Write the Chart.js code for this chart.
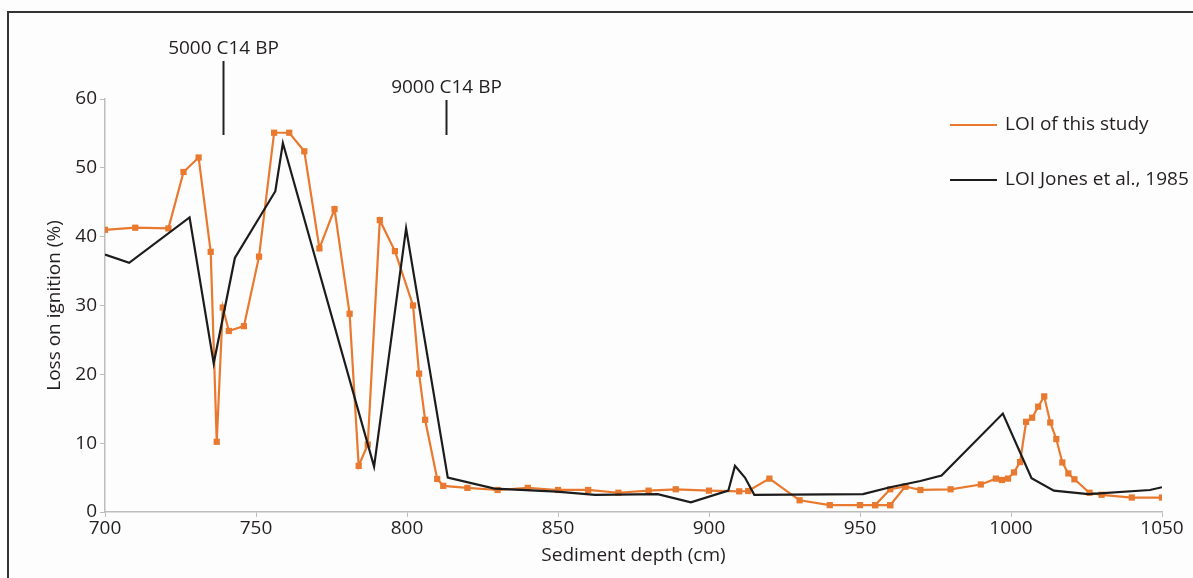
<!DOCTYPE html>
<html><head><meta charset="utf-8">
<script src="https://cdn.jsdelivr.net/npm/chart.js@4.4.0/dist/chart.umd.min.js"></script>
<style>
html,body{margin:0;padding:0;background:#fdfdfd;}
#wrap{position:relative;width:1193px;height:578px;overflow:hidden;background:#fdfdfd;}
#frame{position:absolute;left:7px;top:11px;width:1300px;height:700px;border-top:2px solid #333;border-left:2px solid #333;}
canvas{position:absolute;left:0;top:0;}
</style></head><body>
<div id="wrap"><div id="frame"></div><canvas id="c" width="1193" height="578"></canvas></div>
<script>
// ---- data ----
const studyDepth = [700,710,721,726,731,735,737,739,741,746,751,756,761,766,771,776,781,784,787,791,796,802,804,806,810,812,820,830,840,850,860,870,880,889,900,910,913,920,930,940,950,955,960,965,960,955,960,965,970,980,990,995,997,999,1001,1003,1005,1007,1009,1011,1013,1015,1017,1019,1021,1026,1030,1040,1050];
const studyLOI   = [41.0,41.3,41.2,49.4,51.5,37.8,10.2,29.7,26.3,27.0,37.1,55.1,55.1,52.4,38.3,44.0,28.8,6.7,9.8,42.4,37.9,30.0,20.1,13.4,4.8,3.8,3.5,3.2,3.5,3.2,3.2,2.8,3.1,3.3,3.1,3.0,3.05,4.85,1.7,1.0,1.0,1.0,3.3,3.7,1.0,1.0,1.0,3.7,3.2,3.3,4.0,4.85,4.65,4.85,5.75,7.25,13.1,13.7,15.3,16.8,13.0,10.6,7.2,5.6,4.75,2.8,2.5,2.1,2.1];
const jonesDepth = [700,708,728,736,743,756.4,758.9,789.1,799.7,813.5,829,849.6,862.3,883,894,906.4,908.6,911.9,915,951,960,970,977,997.3,1006.8,1014.2,1025.6,1046,1050];
const jonesLOI   = [37.4,36.2,42.8,21.6,36.9,46.6,53.6,6.6,41.2,5.0,3.4,2.95,2.5,2.6,1.4,3.1,6.7,5.0,2.5,2.6,3.6,4.5,5.3,14.3,4.9,3.1,2.6,3.2,3.6];
const xTicks = [700,750,800,850,900,950,1000,1050];
const yTicks = [0,10,20,30,40,50,60];
const datedDepths = [739,813];
const datedLabels = ['5000 C14 BP','9000 C14 BP'];
const seriesNames = ['LOI of this study','LOI Jones et al., 1985'];
const xTitle = 'Sediment depth (cm)';
const yTitle = 'Loss on ignition (%)';

const FAMILY = '"Open Sans", "DejaVu Sans", sans-serif';
const FS = 19;
const ORANGE = '#E8792E';
const BLACK = '#1c1c1c';
const TEXT = '#231F20';
const AXIS = '#BDBDBD';

const overlay = {
  id: 'overlay',
  afterDraw(chart) {
    const {ctx, scales: {x}} = chart;
    ctx.save();
    ctx.font = FS + 'px ' + FAMILY;
    ctx.fillStyle = TEXT;
    ctx.strokeStyle = '#222';
    ctx.lineWidth = 2;
    ctx.textAlign = 'center';
    ctx.textBaseline = 'middle';
    const labelY = [49, 88];
    const lineTop = [61, 100];
    const lineBottom = 135;
    datedDepths.forEach((d, i) => {
      const px = Math.round(x.getPixelForValue(d)) + 0.5;
      ctx.fillText(datedLabels[i], px, labelY[i]);
      ctx.beginPath();
      ctx.moveTo(px, lineTop[i]);
      ctx.lineTo(px, lineBottom);
      ctx.stroke();
    });
    // legend
    const colors = [ORANGE, BLACK];
    const ly = [125, 180];
    ctx.textAlign = 'left';
    seriesNames.forEach((n, i) => {
      ctx.strokeStyle = colors[i];
      ctx.lineWidth = 2;
      ctx.beginPath();
      ctx.moveTo(950, ly[i]);
      ctx.lineTo(997, ly[i]);
      ctx.stroke();
      ctx.fillStyle = TEXT;
      ctx.fillText(n, 1005, ly[i]);
    });
    ctx.restore();
  }
};

new Chart(document.getElementById('c'), {
  type: 'scatter',
  data: {
    datasets: [
      {
        label: seriesNames[1],
        data: jonesDepth.map((d, i) => ({x: d, y: jonesLOI[i]})),
        showLine: true,
        borderColor: BLACK,
        borderWidth: 2.2,
        pointRadius: 0,
        tension: 0
      },
      {
        label: seriesNames[0],
        data: studyDepth.map((d, i) => ({x: d, y: studyLOI[i]})),
        showLine: true,
        borderColor: ORANGE,
        backgroundColor: ORANGE,
        borderWidth: 2.2,
        pointStyle: 'rect',
        pointRadius: 4.4,
        pointBorderWidth: 0,
        tension: 0
      }
    ]
  },
  options: {
    responsive: false,
    animation: false,
    devicePixelRatio: 1,
    layout: {padding: {top: 99, right: 31, left: 0, bottom: 0}},
    plugins: {legend: {display: false}, tooltip: {enabled: false}},
    scales: {
      x: {
        type: 'linear',
        min: 700, max: 1050,
        afterBuildTicks: s => { s.ticks = xTicks.map(v => ({value: v})); },
        afterFit: s => { s.height = 66; },
        grid: {drawOnChartArea: false, color: AXIS, tickLength: 5},
        border: {color: AXIS, width: 1.5},
        ticks: {color: TEXT, font: {family: FAMILY, size: FS}, padding: 0, maxRotation: 0, callback: v => String(v)},
        title: {display: true, text: xTitle, color: TEXT, font: {family: FAMILY, size: FS}, padding: {top: 0, bottom: 11}}
      },
      y: {
        type: 'linear',
        min: 0, max: 60,
        afterBuildTicks: s => { s.ticks = yTicks.map(v => ({value: v})); },
        afterFit: s => { s.width = 105; },
        grid: {drawOnChartArea: false, color: AXIS, tickLength: 5},
        border: {color: AXIS, width: 1.5},
        ticks: {color: TEXT, font: {family: FAMILY, size: FS}, padding: 3, callback: v => String(v)},
        title: {display: true, text: yTitle, color: TEXT, font: {family: FAMILY, size: FS}, padding: {top: 43, bottom: 0}}
      }
    }
  },
  plugins: [overlay]
});
</script>
</body></html>
